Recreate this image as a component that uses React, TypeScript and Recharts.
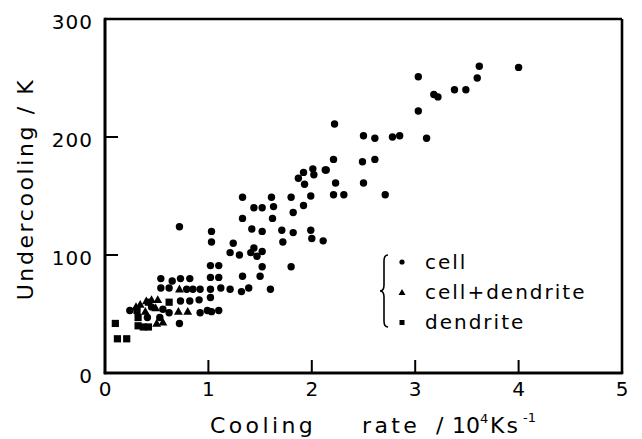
import React from "react";
import { Legend, Scatter, ScatterChart, XAxis, YAxis } from "recharts";

// values: [cooling rate (10^4 K/s), undercooling (K)]
const cellPoints: [number, number][] = [
	[3.62, 260], [4.0, 259], [3.6, 250], [3.03, 251], [3.38, 240], [3.49, 240],
	[3.18, 236], [3.22, 234], [3.03, 222], [2.22, 211], [2.5, 201], [2.61, 199],
	[2.78, 200], [2.85, 201], [3.11, 199], [2.21, 181], [2.49, 179], [2.61, 181],
	[2.14, 172], [2.23, 161], [2.5, 161], [2.21, 151], [2.31, 151], [2.71, 151],
	[1.99, 121], [2.0, 114], [2.11, 112],
	[2.01, 173], [2.13, 172], [1.92, 170], [2.02, 168], [1.87, 165], [1.93, 160],
	[1.33, 149], [1.61, 149], [1.8, 149], [1.99, 150], [1.44, 140], [1.52, 140],
	[1.63, 141], [1.92, 142], [1.82, 136], [1.33, 131], [1.62, 131], [1.03, 120],
	[1.42, 122], [1.52, 120], [1.71, 121], [1.82, 119], [1.03, 111], [1.24, 110],
	[1.72, 111], [1.21, 102], [1.3, 100], [1.44, 106], [1.41, 102], [1.47, 99],
	[1.52, 103], [1.02, 91], [1.1, 91], [1.52, 90], [1.8, 90], [1.02, 81],
	[1.1, 81], [1.33, 82], [1.5, 82], [1.02, 71], [1.12, 72], [1.21, 71],
	[1.32, 69], [1.39, 72], [1.6, 71], [1.02, 64], [0.99, 53], [1.03, 52],
	[1.1, 53], [0.72, 124],
	[0.54, 80], [0.65, 78], [0.73, 80], [0.82, 80], [0.54, 72], [0.62, 72],
	[0.79, 71], [0.85, 71], [0.92, 71], [0.73, 61], [0.82, 61], [0.91, 62],
	[0.24, 53], [0.45, 56], [0.56, 54], [0.62, 51], [0.92, 51], [0.41, 47],
	[0.53, 47], [0.72, 42],
];

const cellDendritePoints: [number, number][] = [
	[0.34, 58], [0.4, 61], [0.45, 62], [0.51, 62], [0.72, 71], [0.39, 52],
	[0.49, 55], [0.71, 52], [0.8, 52], [0.5, 42], [0.56, 43], [0.3, 56],
];

const dendritePoints: [number, number][] = [
	[0.62, 60], [0.31, 53], [0.32, 47], [0.32, 40], [0.42, 39], [0.37, 39],
	[0.1, 42], [0.12, 29], [0.21, 29], [0.42, 60],
];

const xTicks = [0, 1, 2, 3, 4, 5];
const yTicks = [0, 100, 200, 300];

const toRows = (pts: [number, number][]) => pts.map(([x, y]) => ({ x, y }));
const cellRows = toRows(cellPoints);
const cellDendriteRows = toRows(cellDendritePoints);
const dendriteRows = toRows(dendritePoints);

const FONT = "'DejaVu Sans', sans-serif";
const TICK_LEN = 12;
const FW = 2.6; // frame thickness
const TW = 2; // tick mark thickness
const frameLine = { stroke: "#000", strokeWidth: FW };
const num = (v: any, fallback: number) => (typeof v === "number" && isFinite(v) ? v : fallback);

const Dot = (p: any) => <circle cx={p.cx} cy={p.cy} r={3.7} fill="#000" />;
const Tri = (p: any) => (
	<polygon
		points={`${p.cx},${p.cy - 4.6} ${p.cx - 4.4},${p.cy + 3.2} ${p.cx + 4.4},${p.cy + 3.2}`}
		fill="#000"
	/>
);
const Sq = (p: any) => (
	<rect x={p.cx - 3.6} y={p.cy - 3.6} width={7.2} height={7.2} fill="#000" />
);

// frame and inward tick marks drawn as filled bars, placed from the tick props
const HBar = ({ x1, x2, y, t }: any) => (
	<rect x={Math.min(x1, x2) - t / 2} y={y - t / 2} width={Math.abs(x2 - x1) + t} height={t} fill="#000" />
);
const VBar = ({ x, y1, y2, t }: any) => (
	<rect x={x - t / 2} y={Math.min(y1, y2) - t / 2} width={t} height={Math.abs(y2 - y1) + t} fill="#000" />
);

const XTick = ({ x, y, payload, width }: any) => {
	const axisY = Number(y) + TICK_LEN;
	const v = Number(payload?.value);
	return (
		<g>
			{v === 0 && <HBar x1={x} x2={x + num(width, 517)} y={axisY} t={FW} />}
			<VBar x={x} y1={axisY} y2={axisY - TICK_LEN} t={TW} />
			<text x={x} y={axisY + 23} textAnchor="middle" fontFamily={FONT} fontSize={20} fill="#000">
				{payload.value}
			</text>
		</g>
	);
};

const TopTick = ({ x, y, payload, width }: any) => {
	const axisY = Number(y) - TICK_LEN;
	const v = Number(payload?.value);
	return (
		<g>
			{v === 0 && <HBar x1={x} x2={x + num(width, 517)} y={axisY} t={FW} />}
			<VBar x={x} y1={axisY} y2={axisY + TICK_LEN} t={TW} />
		</g>
	);
};

const YTick = ({ x, y, payload, height }: any) => {
	const axisX = Number(x) - TICK_LEN;
	const v = Number(payload?.value);
	return (
		<g>
			{v === 0 && <VBar x={axisX} y1={y} y2={y - num(height, 354)} t={FW} />}
			<HBar x1={axisX} x2={axisX + TICK_LEN} y={y} t={TW} />
			<text x={axisX - 12} y={y + 10} textAnchor="end" fontFamily={FONT} fontSize={20} letterSpacing={1} fill="#000">
				{payload.value}
			</text>
		</g>
	);
};

const RightTick = ({ x, y, payload, height }: any) => {
	const axisX = Number(x) + TICK_LEN;
	const v = Number(payload?.value);
	return (
		<g>
			{v === 0 && <VBar x={axisX} y1={y} y2={y - num(height, 354)} t={FW} />}
			<HBar x1={axisX} x2={axisX - TICK_LEN} y={y} t={TW} />
		</g>
	);
};

const Titles = () => (
	<g fontFamily={FONT} fontSize={22} fill="#000">
		<text y={433} letterSpacing={3.4}>
			<tspan x={210}>Cooling</tspan>
			<tspan x={362}>rate</tspan>
			<tspan x={436}>/</tspan>
			<tspan x={452} letterSpacing={0}>10</tspan>
			<tspan x={480} dy={-10} fontSize={13} letterSpacing={0}>4</tspan>
			<tspan x={490} dy={10} letterSpacing={2}>Ks</tspan>
			<tspan x={523} dy={-11} fontSize={13} letterSpacing={0}>-1</tspan>
		</text>
		<text x={33} y={189} transform="rotate(-90, 33, 189)" textAnchor="middle" letterSpacing={2.6}>
			Undercooling / K
		</text>
	</g>
);

const LegendBox = () => (
	<svg width={240} height={90} style={{ display: "block" }}>
		<path
			d="M 10 10 Q 6 10 6 16 L 6 40 Q 6 46 2 46 Q 6 46 6 52 L 6 76 Q 6 82 10 82"
			fill="none"
			stroke="#000"
			strokeWidth={1.6}
		/>
		<circle cx={24} cy={17} r={2.6} fill="#000" />
		<polygon points="24,44 20.5,50 27.5,50" fill="#000" />
		<rect x={21.5} y={75} width={5} height={5} fill="#000" />
		<g fontFamily={FONT} fontSize={20} letterSpacing={2} fill="#000">
			<text x={47} y={24}>cell</text>
			<text x={47} y={54}>cell+dendrite</text>
			<text x={47} y={84}>dendrite</text>
		</g>
	</svg>
);

export default function App() {
	return (
		<div style={{ position: "absolute", left: 0, top: 0, width: 642, background: "#fff" }}>
			<ScatterChart
				width={642}
				height={439}
				margin={{ top: 18, right: 19, left: 65, bottom: 36 }}
			>
				<XAxis
					dataKey="x"
					type="number"
					domain={[0, 5]}
					ticks={xTicks}
					tick={<XTick />}
					tickSize={-TICK_LEN}
					tickMargin={0}
					tickLine={false}
					axisLine={frameLine}
					height={30}
					label={<Titles />}
				/>
				<XAxis
					xAxisId="top"
					orientation="top"
					type="number"
					domain={[0, 5]}
					ticks={xTicks}
					tick={<TopTick />}
					tickSize={-TICK_LEN}
					tickMargin={0}
					tickLine={false}
					axisLine={frameLine}
					height={1}
				/>
				<YAxis
					dataKey="y"
					type="number"
					domain={[0, 300]}
					ticks={yTicks}
					tick={<YTick />}
					tickSize={-TICK_LEN}
					tickMargin={0}
					tickLine={false}
					axisLine={frameLine}
					width={40}
				/>
				<YAxis
					yAxisId="right"
					orientation="right"
					type="number"
					domain={[0, 300]}
					ticks={yTicks}
					tick={<RightTick />}
					tickSize={-TICK_LEN}
					tickMargin={0}
					tickLine={false}
					axisLine={frameLine}
					width={1}
				/>
				<Scatter name="cell" data={cellRows} shape={Dot} isAnimationActive={false} />
				<Scatter name="cell+dendrite" data={cellDendriteRows} shape={Tri} isAnimationActive={false} />
				<Scatter name="dendrite" data={dendriteRows} shape={Sq} isAnimationActive={false} />
				<Legend
					layout="horizontal"
					verticalAlign="middle"
					content={<LegendBox />}
					wrapperStyle={{ left: 378, top: 245, width: 240 }}
				/>
			</ScatterChart>
		</div>
	);
}
